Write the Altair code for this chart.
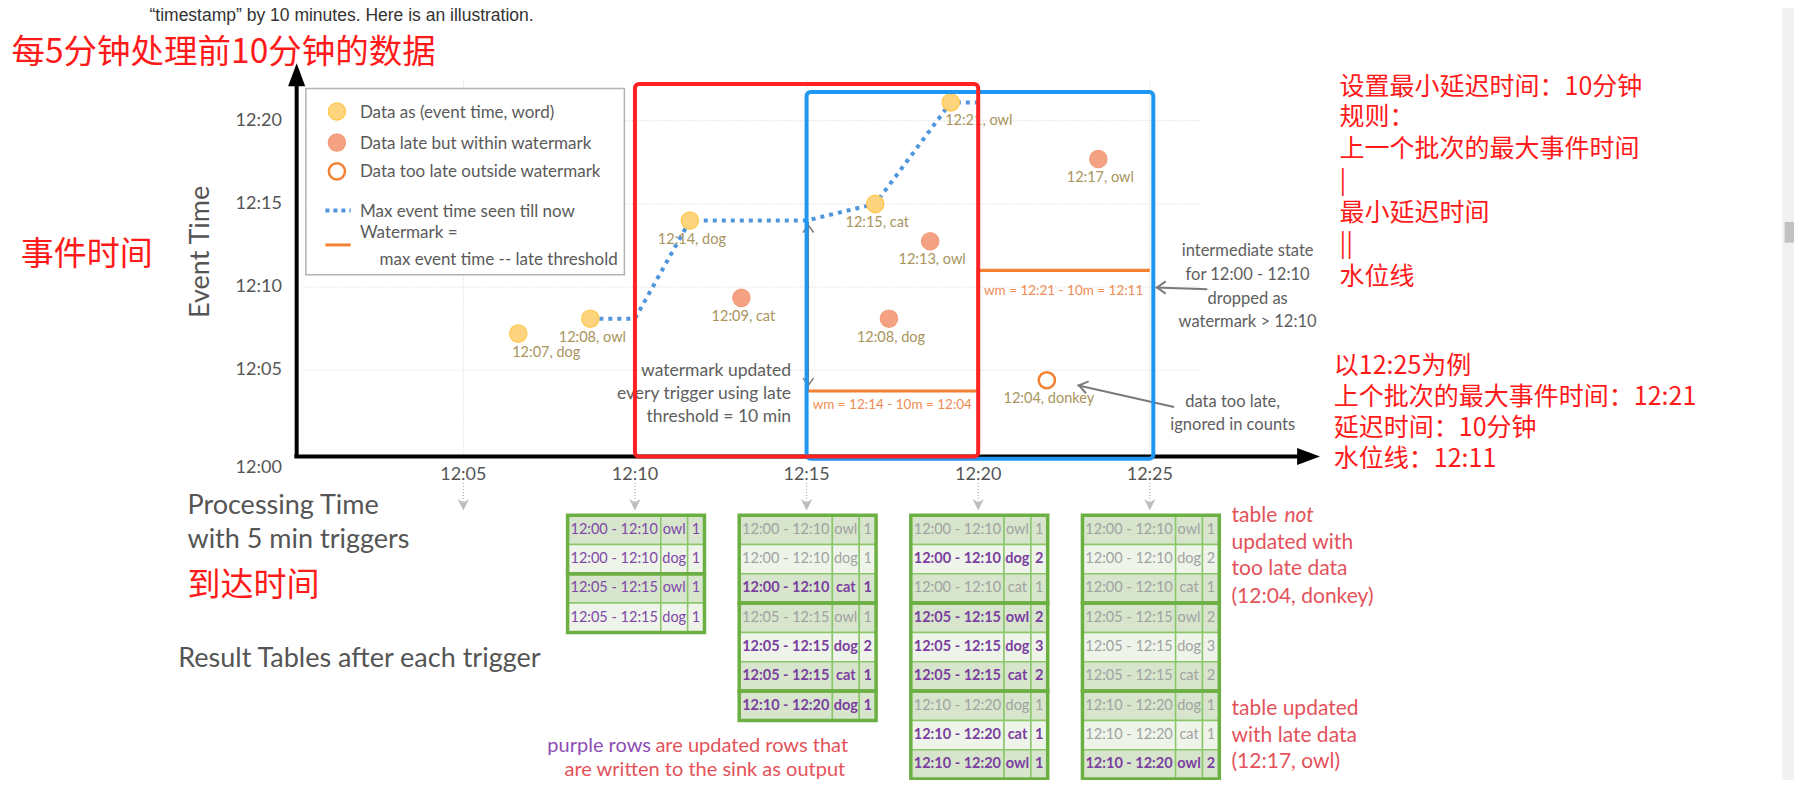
import altair as alt
import pandas as pd

# ---------------- canvas / coordinate system ----------------
S = 1803 / 1568          # reference display -> page pixels
PW, PH = 1786, 772       # plot area (page has 8px margin)


def mx(xd):  # processing-time minutes after 12:00 for a reference x position
    return (xd - 253.7) / 29.85


def ey(yd):  # event-time minutes after 12:00 for a reference y position
    return (394.3 - yd) / 14.466


X_DOM = [mx(8 / S), mx((8 + PW) / S)]
Y_DOM = [ey((8 + PH) / S), ey(8 / S)]
xs = alt.Scale(domain=X_DOM, nice=False, zero=False)
ys = alt.Scale(domain=Y_DOM, nice=False, zero=False)

FONT = "Lato"
CJK = "Noto Sans CJK SC"

# ---------------- data ----------------
TICK_MIN = [5, 10, 15, 20, 25]
TICK_LABEL = ["12:05", "12:10", "12:15", "12:20", "12:25"]
YTICK_MIN = [5, 10, 15, 20]
YTICK_LABEL = ["12:05", "12:10", "12:15", "12:20"]

EVENT_LABEL = ["12:07", "12:08", "12:14", "12:09", "12:15", "12:08", "12:13", "12:21", "12:04", "12:17"]
WORD = ["dog", "owl", "dog", "cat", "cat", "dog", "owl", "owl", "donkey", "owl"]
ARRIVAL_MIN = [6.6, 8.7, 11.6, 13.1, 17.0, 17.4, 18.6, 19.2, 22.0, 23.5]
EVENT_MIN = [7.2, 8.1, 14.0, 9.35, 15.0, 8.1, 12.75, 21.1, 4.4, 17.7]
KIND = ["on time", "on time", "on time", "late", "on time", "late", "late", "on time", "too late", "late"]

MAX_PROC = [8.7, 10.0, 11.6, 15.0, 17.0, 19.2, 20.0]
MAX_EVENT = [8.1, 8.1, 14.0, 14.0, 15.0, 21.1, 21.1]

WM_PROC = [15.0, 20.0, 20.0, 25.0]
WM_EVENT = [3.75, 3.75, 11.0, 11.0]

TRIGGERS = [10, 15, 20, 25]
W0, W1, W2 = "12:00 - 12:10", "12:05 - 12:15", "12:10 - 12:20"
T10_WIN = [W0, W0, W1, W1]
T10_WORD = ["owl", "dog", "owl", "dog"]
T10_CNT = [1, 1, 1, 1]
T10_UPD = [1, 1, 1, 1]
T15_WIN = [W0, W0, W0, W1, W1, W1, W2]
T15_WORD = ["owl", "dog", "cat", "owl", "dog", "cat", "dog"]
T15_CNT = [1, 1, 1, 1, 2, 1, 1]
T15_UPD = [0, 0, 1, 0, 1, 1, 1]
T20_WIN = [W0, W0, W0, W1, W1, W1, W2, W2, W2]
T20_WORD = ["owl", "dog", "cat", "owl", "dog", "cat", "dog", "cat", "owl"]
T20_CNT = [1, 2, 1, 2, 3, 2, 1, 1, 1]
T20_UPD = [0, 1, 0, 1, 1, 1, 0, 1, 1]
T25_WIN = [W0, W0, W0, W1, W1, W1, W2, W2, W2]
T25_WORD = ["owl", "dog", "cat", "owl", "dog", "cat", "dog", "cat", "owl"]
T25_CNT = [1, 2, 1, 2, 3, 2, 1, 1, 2]
T25_UPD = [0, 0, 0, 0, 0, 0, 0, 0, 1]
TABLES = [(T10_WIN, T10_WORD, T10_CNT, T10_UPD), (T15_WIN, T15_WORD, T15_CNT, T15_UPD),
          (T20_WIN, T20_WORD, T20_CNT, T20_UPD), (T25_WIN, T25_WORD, T25_CNT, T25_UPD)]

# ---------------- layout constants for the tables ----------------
COL_EDGES = [-1.963, 0.752, 1.535, 2.025]
TABLE_TOP = ey(448)
ROW_H = 25.5 / 14.466

cells, groups = [], []
for t, (wins, words, cnts, upds) in zip(TRIGGERS, TABLES):
    prev, pos, gstart = None, 0, 0
    for i, (w, wd, c, u) in enumerate(zip(wins, words, cnts, upds)):
        if w == prev:
            pos += 1
        else:
            if prev is not None:
                groups.append(dict(x=t + COL_EDGES[0], x2=t + COL_EDGES[3],
                                   y=TABLE_TOP - gstart * ROW_H, y2=TABLE_TOP - i * ROW_H))
            pos, gstart = 0, i
        prev = w
        yt = TABLE_TOP - i * ROW_H
        for k, val in enumerate([w, wd, str(c)]):
            cells.append(dict(
                x=t + COL_EDGES[k], x2=t + COL_EDGES[k + 1], y=yt, y2=yt - ROW_H,
                xc=t + (COL_EDGES[k] + COL_EDGES[k + 1]) / 2, yc=yt - ROW_H / 2,
                text=val, fill="#eef4ea" if pos == 1 else "#d6e5cc",
                updated=u, trigger=t))
    groups.append(dict(x=t + COL_EDGES[0], x2=t + COL_EDGES[3],
                       y=TABLE_TOP - gstart * ROW_H, y2=TABLE_TOP - len(wins) * ROW_H))
cells = pd.DataFrame(cells)
groups = pd.DataFrame(groups)

# ---------------- helpers ----------------


def X(f="x"):
    return alt.X(f"{f}:Q", scale=xs, axis=None)


def Y(f="y"):
    return alt.Y(f"{f}:Q", scale=ys, axis=None)


def texts(rows, **kw):
    df = pd.DataFrame(rows, columns=["text", "x", "y"])
    kw.setdefault("font", FONT)
    kw.setdefault("baseline", "middle")
    return alt.Chart(df).mark_text(**kw).encode(x=X(), y=Y(), text="text:N")


def seg(rows, **kw):
    df = pd.DataFrame(rows, columns=["x", "y", "x2", "y2"])
    return alt.Chart(df).mark_rule(**kw).encode(x=X(), y=Y(), x2="x2:Q", y2="y2:Q")


def rects(rows, **kw):
    df = pd.DataFrame(rows, columns=["x", "x2", "y", "y2"])
    return alt.Chart(df).mark_rect(**kw).encode(x=X(), x2="x2:Q", y=Y(), y2="y2:Q")


def marks(rows, **kw):
    df = pd.DataFrame(rows, columns=["x", "y"])
    return alt.Chart(df).mark_point(**kw).encode(x=X(), y=Y())


layers = []

# scrollbar of the screenshot
layers.append(rects([(mx(1550), X_DOM[1], Y_DOM[0], Y_DOM[1])], fill="#f1f1f1"))
layers.append(rects([(mx(1552), mx(1566), ey(193), ey(211))], fill="#c1c1c1"))

# gridlines
grid_h = pd.DataFrame({"y": YTICK_MIN})
layers.append(alt.Chart(grid_h).mark_rule(color="#cfcfcf", strokeDash=[1, 2], strokeWidth=1).encode(
    x=alt.datum(mx(265), scale=xs, axis=None), x2=alt.datum(mx(1045)), y=Y()))
grid_v = pd.DataFrame({"x": TICK_MIN})
layers.append(alt.Chart(grid_v).mark_rule(color="#cfcfcf", strokeDash=[1, 2], strokeWidth=1).encode(
    x=X(), y=alt.datum(ey(397), scale=ys, axis=None), y2=alt.datum(ey(70))))

# trigger arrows below the axis
layers.append(alt.Chart(grid_v).mark_rule(color="#b0b0b0", strokeDash=[1, 2], strokeWidth=1.2).encode(
    x=X(), y=alt.datum(ey(420), scale=ys, axis=None), y2=alt.datum(ey(440))))
layers.append(alt.Chart(grid_v).mark_point(
    shape="M-1,-1L0,1L1,-1L0,-0.4Z", filled=True, color="#bdbdbd", size=130, opacity=1).encode(
    x=X(), y=alt.datum(ey(439), scale=ys, axis=None)))

# legend box
LEG = 17
layers.append(rects([(mx(266), mx(543), ey(77), ey(239))], fill="white", stroke="#b3b3b3", strokeWidth=1.5))
layers.append(marks([(mx(293), ey(97))], shape="circle", filled=True, fill="#ffd47e", stroke="#ffc84a",
                    strokeWidth=1.2, size=300, opacity=1))
layers.append(marks([(mx(293), ey(124))], shape="circle", filled=True, fill="#f4a283", stroke="#f29c7c",
                    strokeWidth=1.2, size=300, opacity=1))
layers.append(marks([(mx(293), ey(149))], shape="circle", filled=False, fill="white", stroke="#f28232",
                    strokeWidth=2.5, size=260, opacity=1))
layers.append(seg([(mx(283), ey(183), mx(305), ey(183))], color="#4f96dc", strokeWidth=4, strokeDash=[4, 4]))
layers.append(seg([(mx(283), ey(213), mx(305), ey(213))], color="#f28232", strokeWidth=3))
LEGEND_TEXT = ["Data as (event time, word)", "Data late but within watermark", "Data too late outside watermark",
               "Max event time seen till now", "Watermark ="]
layers.append(texts(list(zip(LEGEND_TEXT, [mx(313)] * 5, [ey(98), ey(125), ey(150), ey(184), ey(203)])),
                    align="left", fontSize=LEG, color="#5a5a5a"))
layers.append(texts([("max event time -- late threshold", mx(330), ey(226))], align="left", fontSize=LEG,
                    color="#5a5a5a"))

# max event time line
mline = pd.DataFrame({"x": MAX_PROC, "y": MAX_EVENT, "o": range(len(MAX_PROC))})
layers.append(alt.Chart(mline).mark_line(color="#4f96dc", strokeWidth=4, strokeDash=[4, 5]).encode(
    x=X(), y=Y(), order="o:Q"))

# watermark
wline = pd.DataFrame({"x": WM_PROC, "y": WM_EVENT, "o": range(len(WM_PROC))})
layers.append(alt.Chart(wline).mark_line(color="#f28232", strokeWidth=3.2).encode(x=X(), y=Y(), order="o:Q"))
layers.append(texts([("wm = 12:14 - 10m = 12:04", mx(776), ey(352)),
                     ("wm = 12:21 - 10m = 12:11", mx(925), ey(253))],
                    align="center", fontSize=13.5, color="#f08c55"))

# data points
pts = pd.DataFrame({"x": ARRIVAL_MIN, "y": EVENT_MIN, "kind": KIND,
                    "label": [f"{e}, {w}" for e, w in zip(EVENT_LABEL, WORD)]})
base = alt.Chart(pts).encode(x=X(), y=Y())
layers.append(base.transform_filter("datum.kind == 'on time'").mark_point(
    shape="circle", filled=True, fill="#ffd47e", stroke="#ffc84a", strokeWidth=1.2, size=300, opacity=1))
layers.append(base.transform_filter("datum.kind == 'late'").mark_point(
    shape="circle", filled=True, fill="#f4a283", stroke="#f29c7c", strokeWidth=1.2, size=300, opacity=1))
layers.append(base.transform_filter("datum.kind == 'too late'").mark_point(
    shape="circle", filled=False, fill="white", stroke="#f28232", strokeWidth=2.5, size=260, opacity=1))
SHIFTED = ["12:07, dog", "12:21, owl"]
lab_kw = dict(font=FONT, fontSize=14.5, color="#a8945c", baseline="middle", align="center")
layers.append(base.transform_filter(alt.FieldOneOfPredicate(field="label", oneOf=SHIFTED)).mark_text(
    dy=19, dx=28, **lab_kw).encode(text="label:N"))
layers.append(base.transform_filter(~alt.FieldOneOfPredicate(field="label", oneOf=SHIFTED)).mark_text(
    dy=19, dx=2, **lab_kw).encode(text="label:N"))

# gray annotations and arrows
GRAY = "#5e5e5e"
layers.append(texts([("watermark updated", mx(688), ey(323)), ("every trigger using late", mx(688), ey(343)),
                     ("threshold = 10 min", mx(688), ey(363))], align="right", fontSize=17.5, color=GRAY))
layers.append(texts([("intermediate state", mx(1085), ey(218)), ("for 12:00 - 12:10", mx(1085), ey(239)),
                     ("dropped as", mx(1085), ey(260)), ("watermark > 12:10", mx(1085), ey(280)),
                     ("data too late,", mx(1072), ey(350)), ("ignored in counts", mx(1072), ey(370))],
                    align="center", fontSize=16.5, color=GRAY))
ARROW = "#7a7a7a"
layers.append(seg([(15.05, ey(193), 15.05, ey(339))], color=ARROW, strokeWidth=1.5))
layers.append(marks([(15.05, ey(199))], shape="M-1,0.7L0,-0.7L1,0.7", filled=False, stroke=ARROW,
                    strokeWidth=1.5, size=110, opacity=1))
layers.append(marks([(15.05, ey(332))], shape="M-1,-0.7L0,0.7L1,-0.7", filled=False, stroke=ARROW,
                    strokeWidth=1.5, size=110, opacity=1))
layers.append(seg([(mx(1005), ey(250), mx(1050), ey(251.5))], color=ARROW, strokeWidth=2))
layers.append(marks([(mx(1010), ey(250))], shape="M0.7,-1L-0.7,0L0.7,1", filled=False, stroke=ARROW,
                    strokeWidth=2, size=150, opacity=1))
layers.append(seg([(mx(937), ey(335), mx(1021), ey(354))], color=ARROW, strokeWidth=2))
layers.append(marks([(mx(942), ey(336))], shape="M-0.7,-1L0.7,0L-0.7,1", filled=False, stroke=ARROW,
                    strokeWidth=2, size=150, angle=192.6, opacity=1))

# axes
layers.append(seg([(mx(258), ey(397), mx(258), ey(70))], color="black", strokeWidth=4))
layers.append(seg([(mx(256), ey(397), mx(1132), ey(397))], color="black", strokeWidth=4))
layers.append(marks([(mx(258), ey(65))], shape="M0,-1L0.75,1L-0.75,1Z", filled=True, color="black",
                    size=520, opacity=1))
layers.append(marks([(mx(1138), ey(397))], shape="M1,0L-1,0.75L-1,-0.75Z", filled=True, color="black",
                    size=520, opacity=1))
xt = pd.DataFrame({"x": TICK_MIN, "text": TICK_LABEL})
layers.append(alt.Chart(xt).mark_text(font=FONT, fontSize=18, color="#555555", baseline="middle").encode(
    x=X(), y=alt.datum(ey(413), scale=ys, axis=None), text="text:N"))
yt = pd.DataFrame({"y": YTICK_MIN, "text": YTICK_LABEL})
layers.append(alt.Chart(yt).mark_text(font=FONT, fontSize=18, color="#555555", baseline="middle").encode(
    x=alt.datum(mx(225), scale=xs, axis=None), y=Y(), text="text:N"))
layers.append(texts([("12:00", mx(225), ey(407))], align="center", fontSize=18, color="#555555"))
layers.append(texts([("Event Time", mx(175), ey(219))], align="center", fontSize=27, color="#555555", angle=270))

# left labels
layers.append(texts([("Processing Time", mx(163), ey(440)), ("with 5 min triggers", mx(163), ey(470))],
                    align="left", fontSize=27, color="#555555"))
layers.append(texts([("Result Tables after each trigger", mx(155), ey(573))], align="left", fontSize=27,
                    color="#555555"))

# tables
cb = alt.Chart(cells)
layers.append(cb.mark_rect(stroke="#8cc66a", strokeWidth=1.5).encode(
    x=X(), x2="x2:Q", y=Y(), y2="y2:Q", fill=alt.Fill("fill:N", scale=None)))
layers.append(alt.Chart(groups).mark_rect(fill="transparent", stroke="#6cb043", strokeWidth=3.5).encode(
    x=X(), x2="x2:Q", y=Y(), y2="y2:Q"))
tkw = dict(font=FONT, fontSize=14.5, baseline="middle", align="center")
tenc = dict(x=X("xc"), y=Y("yc"), text="text:N")
layers.append(cb.transform_filter("datum.updated == 0").mark_text(color="#a2a2a2", **tkw).encode(**tenc))
layers.append(cb.transform_filter("datum.updated == 1 && datum.trigger == 10").mark_text(
    color="#8048a8", **tkw).encode(**tenc))
layers.append(cb.transform_filter("datum.updated == 1 && datum.trigger > 10").mark_text(
    color="#7b3fa0", fontWeight="bold", **tkw).encode(**tenc))

# table annotations
RED2 = "#e4525a"
AN = 21
layers.append(texts([("table", mx(1071), ey(449)), ("updated with", mx(1071), ey(472)),
                     ("too late data", mx(1071), ey(495)), ("(12:04, donkey)", mx(1071), ey(519)),
                     ("table updated", mx(1071), ey(617)), ("with late data", mx(1071), ey(640)),
                     ("(12:17, owl)", mx(1071), ey(663))], align="left", fontSize=AN, color=RED2))
layers.append(texts([("not", mx(1117), ey(449))], align="left", fontSize=AN, color=RED2, fontStyle="italic"))
layers.append(texts([("purple rows", mx(476), ey(649))], align="left", fontSize=20, color="#8e4cb5"))
layers.append(texts([("are updated rows that", mx(570), ey(649))], align="left", fontSize=20, color=RED2))
layers.append(texts([("are written to the sink as output", mx(613), ey(670))], align="center", fontSize=20,
                    color=RED2))

# red chinese annotations
RED = "#ff1a1a"
layers.append(texts([("每5分钟处理前10分钟的数据", mx(10), ey(46))], align="left", font=CJK, fontSize=33.5, color=RED))
layers.append(texts([("事件时间", mx(18), ey(222)), ("到达时间", mx(163), ey(510))], align="left", font=CJK,
                    fontSize=33, color=RED))
RIGHT1 = ["设置最小延迟时间：10分钟", "规则：", "上一个批次的最大事件时间", "|", "最小延迟时间", "||", "水位线"]
RIGHT1_Y = [76, 102, 130, 157, 185, 212, 241]
layers.append(texts([(s, mx(1165), ey(v)) for s, v in zip(RIGHT1, RIGHT1_Y)], align="left", font=CJK,
                    fontSize=25, color=RED))
RIGHT2 = ["以12:25为例", "上个批次的最大事件时间：12:21", "延迟时间：10分钟", "水位线：12:11"]
RIGHT2_Y = [318, 345, 372, 399]
layers.append(texts([(s, mx(1160), ey(v)) for s, v in zip(RIGHT2, RIGHT2_Y)], align="left", font=CJK,
                    fontSize=25, color=RED))

# page header fragment
layers.append(texts([("\u201ctimestamp\u201d by 10 minutes. Here is an illustration.", mx(130), ey(18.5))],
                    align="left", font="Liberation Sans", fontSize=17.5, color="#333333", baseline="alphabetic"))

# window boxes (drawn on top)
layers.append(rects([(15.0, mx(1003), ey(80), ey(399))], fill="transparent", stroke="#1f97f2", strokeWidth=4,
                    cornerRadius=4))
layers.append(rects([(10.0, 20.0, ey(73), ey(397))], fill="transparent", stroke="#ff2222", strokeWidth=4,
                    cornerRadius=4))

chart = alt.layer(*layers).properties(
    width=PW, height=PH, autosize=alt.AutoSizeParams(type="none"), padding=0, background="white"
).configure_view(strokeWidth=0)

chart.save("out.html", embed_options={"renderer": "svg", "actions": False})
